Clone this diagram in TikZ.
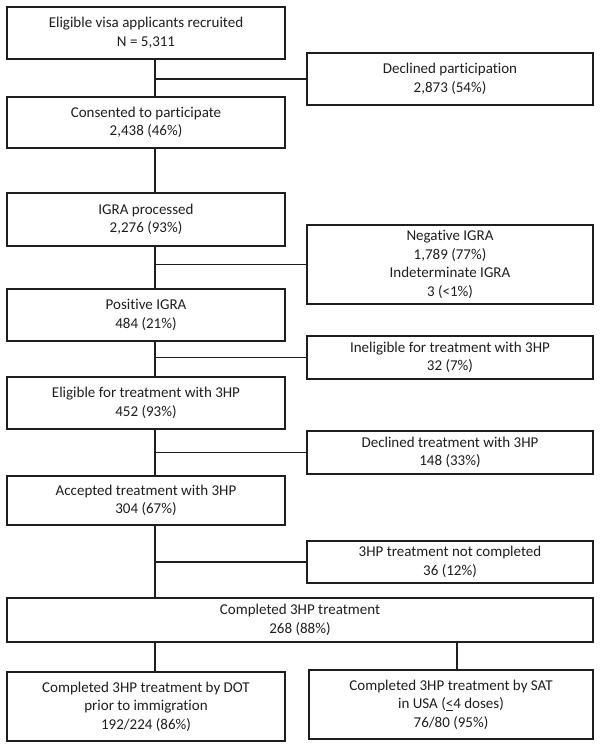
\documentclass[tikz,border=0pt]{standalone}
\usepackage{fontspec}
\setmainfont{Carlito}[Ligatures=NoCommon]
\definecolor{ink}{HTML}{1E1E1E}
\begin{document}
\begin{tikzpicture}[x=1pt,y=-1pt,
  box/.style={draw=ink, line width=1.8pt, inner sep=0pt, align=center, text=ink,
    font=\fontsize{15}{18.5}\selectfont},
  leftbox/.style={box, minimum width=278pt},
  rightbox/.style={box, minimum width=286pt},
  link/.style={draw=ink, line width=1.8pt}]
\useasboundingbox (0,0) rectangle (600,749);
% main column
\node[leftbox, minimum height=52pt] (b1) at (146,33) {Eligible visa applicants recruited\\N = 5,311};
\node[leftbox, minimum height=51pt] (b2) at (146,122.5) {Consented to participate\\2,438 (46\%)};
\node[leftbox, minimum height=53pt] (b3) at (146,219.5) {IGRA processed\\2,276 (93\%)};
\node[leftbox, minimum height=52pt] (b4) at (146,315) {Positive IGRA\\484 (21\%)};
\node[leftbox, minimum height=52pt] (b5) at (146,403) {Eligible for treatment with 3HP\\452 (93\%)};
\node[leftbox, minimum height=49pt] (b6) at (146,500.5) {Accepted treatment with 3HP\\304 (67\%)};
\node[box, minimum width=586pt, minimum height=44pt] (b7) at (300,620) {Completed 3HP treatment\\268 (88\%)};
\node[leftbox, minimum height=69pt] (b8) at (146,706.5) {Completed 3HP treatment by DOT\\prior to immigration\\192/224 (86\%)};
% side boxes
\node[rightbox, minimum height=52pt] (r1) at (450,79) {Declined participation\\2,873 (54\%)};
\node[rightbox, minimum height=79pt] (r2) at (450,264.5) {Negative IGRA\\1,789 (77\%)\\Indeterminate IGRA\\3 (<1\%)};
\node[rightbox, minimum height=43pt] (r3) at (450,357.5) {Ineligible for treatment with 3HP\\32 (7\%)};
\node[rightbox, minimum height=43pt] (r4) at (450,452.5) {Declined treatment with 3HP\\148 (33\%)};
\node[rightbox, minimum height=42pt] (r5) at (450,562) {3HP treatment not completed\\36 (12\%)};
\node[box, minimum width=284pt, minimum height=69pt] (r6) at (451,704.5) {Completed 3HP treatment by SAT\\in USA (\underline{<}4 doses)\\76/80 (95\%)};
% spines
\coordinate (sp) at (155,0);
\coordinate (sp2) at (457,0);
% connectors
\draw[link] (b1.south -| sp) -- (b2.north -| sp);
\draw[link] (r1.west -| sp) -- (r1.west);
\draw[link] (b2.south -| sp) -- (b3.north -| sp);
\draw[link] (b3.south -| sp) -- (b4.north -| sp);
\draw[link] (r2.west -| sp) -- (r2.west);
\draw[link] (b4.south -| sp) -- (b5.north -| sp);
\draw[link] (r3.west -| sp) -- (r3.west);
\draw[link] (b5.south -| sp) -- (b6.north -| sp);
\draw[link] (r4.west -| sp) -- (r4.west);
\draw[link] (b6.south -| sp) -- (b7.north -| sp);
\draw[link] (r5.west -| sp) -- (r5.west);
\draw[link] (b7.south -| sp) -- (b8.north -| sp);
\draw[link] (b7.south -| sp2) -- (r6.north -| sp2);
\end{tikzpicture}
\end{document}
